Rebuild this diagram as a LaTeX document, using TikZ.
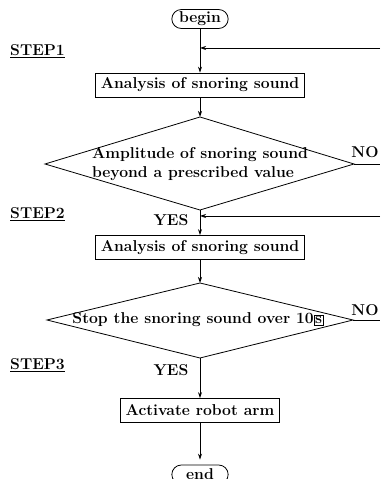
\documentclass[tikz,border=0pt]{standalone}
\usetikzlibrary{arrows.meta,shapes.misc}
\begin{document}
\begin{tikzpicture}[x=1pt,y=1pt,
  every node/.style={font=\fontsize{15.7}{19}\selectfont\bfseries},
  box/.style={draw,line width=0.8pt,inner xsep=5.5pt,minimum height=24pt},
  term/.style={draw,rounded rectangle,line width=0.8pt,minimum height=19pt,minimum width=63pt,inner ysep=0pt},
  arr/.style={-{Stealth[length=6pt,width=4pt]},line width=0.8pt},
  ln/.style={line width=0.8pt},
  steplabel/.style={anchor=center}]
\useasboundingbox (0,0) rectangle (380,479);

% nodes
\node[term] (begin) at (200,460) {begin};
\node[box] (box1) at (200,394) {Analysis of snoring sound};
\coordinate (d1t) at (200,362);
\coordinate (d1b) at (200,269);
\coordinate (d1l) at (45,315);
\coordinate (d1r) at (354,315);
\draw[ln] (d1t) -- (d1r) -- (d1b) -- (d1l) -- cycle;
\node[align=left] (d1txt) at (200,315) {Amplitude of snoring sound\\beyond a prescribed value};
\node[box] (box2) at (200,231.5) {Analysis of snoring sound};
\coordinate (d2t) at (200,196);
\coordinate (d2b) at (200,121);
\coordinate (d2l) at (47,159);
\coordinate (d2r) at (353,159);
\draw[ln] (d2t) -- (d2r) -- (d2b) -- (d2l) -- cycle;
\node (d2txt) at (198,159) {Stop the snoring sound over 10{\setlength\fboxsep{0.8pt}\setlength\fboxrule{0.6pt}\fbox{s}}};
\node[box] (box3) at (200,68.5) {Activate robot arm};
\node[term] (end) at (200,4.5) {end};

% labels
\node[steplabel] (s1) at (37.5,428) {\underline{STEP1}};
\node[steplabel] (s2) at (37.5,265) {\underline{STEP2}};
\node[steplabel] (s3) at (37.5,114) {\underline{STEP3}};
\node (no1) at (365,327) {NO};
\node (no2) at (365,169) {NO};
\node (yes1) at (171,259) {YES};
\node (yes2) at (171,109) {YES};

% connectors
\coordinate (j1) at (200,431);
\coordinate (r1) at (380,431);
\coordinate (j2) at (200,263);
\coordinate (r2) at (380,263);
\coordinate (o1) at (380,315);
\coordinate (o2) at (380,159);

\draw[arr] (begin.south) -- (box1.north);
\draw[arr] (r1) -- (j1);
\draw[arr] (box1.south) -- (d1t);
\draw[arr] (d1b) -- (box2.north);
\draw[arr] (r2) -- (j2);
\draw[ln] (d1r) -- (o1);
\draw[arr] (box2.south) -- (d2t);
\draw[ln] (d2r) -- (o2);
\draw[arr] (d2b) -- (box3.north);
\draw[arr,shorten >=5pt] (box3.south) -- (end.north);
\end{tikzpicture}
\end{document}
